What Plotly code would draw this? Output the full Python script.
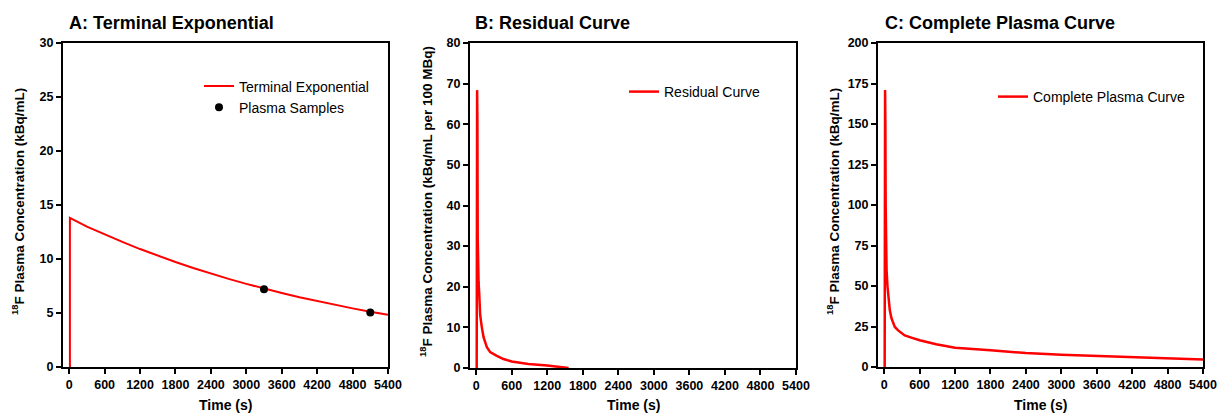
import plotly.graph_objects as go

W, H = 1227, 417

# ---------------- data ----------------
time_a = [12, 12, 300, 600, 900, 1200, 1500, 1800, 2100, 2400, 2700, 3000,
          3300, 3600, 3900, 4200, 4500, 4800, 5100, 5400]
terminal_a = [0, 13.8, 13.0, 12.27, 11.58, 10.92, 10.30, 9.72, 9.17, 8.65, 8.16,
              7.70, 7.26, 6.85, 6.46, 6.10, 5.75, 5.43, 5.12, 4.83]
sample_time = [3300, 5100]
sample_conc = [7.2, 5.05]

time_b = [8, 15, 20, 25, 30, 40, 50, 67, 95, 124, 180, 236, 348, 460, 600,
          880, 1200, 1470, 1560]
resid_b = [0, 68.4, 61, 32, 25, 21, 18.5, 13, 10, 7.6, 5.1, 3.9, 3.0, 2.2, 1.6,
           1.0, 0.6, 0.15, 0]

time_c = [8, 15, 20, 25, 30, 40, 55, 67, 95, 124, 180, 236, 348, 460, 600, 880,
          1200, 1800, 2100, 2400, 3000, 3600, 4200, 4800, 5400]
conc_c = [0, 171, 150, 100, 77, 60, 50, 45, 35, 30, 24.7, 22.6, 19.5, 18.1, 16.5,
          14.0, 11.9, 10.3, 9.3, 8.6, 7.6, 6.8, 6.0, 5.3, 4.6]

x_ticks = [0, 600, 1200, 1800, 2400, 3000, 3600, 4200, 4800, 5400]
y_ticks_a = [0, 5, 10, 15, 20, 25, 30]
y_ticks_b = [0, 10, 20, 30, 40, 50, 60, 70, 80]
y_ticks_c = [0, 25, 50, 75, 100, 125, 150, 175, 200]

panel_titles = ["A: Terminal Exponential", "B: Residual Curve", "C: Complete Plasma Curve"]
y_titles = ["<sup>18</sup>F Plasma Concentration (kBq/mL)",
            "<sup>18</sup>F Plasma Concentration (kBq/mL per 100 MBq)",
            "<sup>18</sup>F Plasma Concentration (kBq/mL)"]

# ---------------- layout geometry (pixels) ----------------
panels = [  # left, right, top, bottom
    (63, 388, 43, 367),
    (470, 796, 43, 368),
    (878, 1203, 43, 367),
]
FONT = "Arial, Liberation Sans, sans-serif"
RED = "#ff0000"

def px(x):
    return x / W

def py(y):
    return 1 - y / H

fig = go.Figure()

fig.add_trace(go.Scatter(x=time_a, y=terminal_a, mode="lines", name="Terminal Exponential",
                         line=dict(color=RED, width=2), xaxis="x", yaxis="y", legend="legend"))
fig.add_trace(go.Scatter(x=sample_time, y=sample_conc, mode="markers", name="Plasma Samples",
                         marker=dict(color="black", size=8), xaxis="x", yaxis="y", legend="legend"))
fig.add_trace(go.Scatter(x=time_b, y=resid_b, mode="lines", name="Residual Curve",
                         line=dict(color=RED, width=2.5), xaxis="x2", yaxis="y2", legend="legend2"))
fig.add_trace(go.Scatter(x=time_c, y=conc_c, mode="lines", name="Complete Plasma Curve",
                         line=dict(color=RED, width=2.5), xaxis="x3", yaxis="y3", legend="legend3"))

def axis_common():
    return dict(showline=True, linecolor="black", linewidth=2, mirror=True,
                ticks="outside", ticklen=5, tickwidth=1.5, tickcolor="black",
                showgrid=False, zeroline=False, automargin=False,
                tickfont=dict(family=FONT, size=12.5, color="black", weight="bold"))

yranges = [(0, 30, y_ticks_a), (0, 80, y_ticks_b), (0, 200, y_ticks_c)]
layout = dict(template="none", width=W, height=H, margin=dict(l=0, r=0, t=0, b=0, pad=0),
              paper_bgcolor="white", plot_bgcolor="white", showlegend=True,
              font=dict(family=FONT, color="black"))
for i, (l, r, t, b) in enumerate(panels):
    sfx = "" if i == 0 else str(i + 1)
    xa = axis_common()
    xa.update(domain=[px(l), px(r)], range=[-105, 5400], tickvals=x_ticks,
              anchor="y" + sfx)
    ya = axis_common()
    y0, y1, yt = yranges[i]
    ya.update(domain=[py(b), py(t)], range=[y0, y1], tickvals=yt, anchor="x" + sfx)
    layout["xaxis" + sfx] = xa
    layout["yaxis" + sfx] = ya

leg_font = dict(family=FONT, size=14, color="black")
layout["legend"] = dict(x=px(199), y=py(97), xanchor="left", yanchor="middle",
                        font=leg_font, bgcolor="rgba(0,0,0,0)", tracegroupgap=0)
layout["legend2"] = dict(x=px(624), y=py(92), xanchor="left", yanchor="middle",
                         font=leg_font, bgcolor="rgba(0,0,0,0)")
layout["legend3"] = dict(x=px(993), y=py(97), xanchor="left", yanchor="middle",
                         font=leg_font, bgcolor="rgba(0,0,0,0)")

fig.update_layout(**layout)

title_x = [67, 473, 883]
ytitle_x = [18, 426, 833]
for i, (l, r, t, b) in enumerate(panels):
    fig.add_annotation(text=panel_titles[i], x=px(title_x[i]), y=py(23), xref="paper", yref="paper",
                       xanchor="left", yanchor="middle", showarrow=False,
                       font=dict(family=FONT, size=18, color="black", weight="bold"))
    fig.add_annotation(text="Time (s)", x=px((l + r) / 2), y=py(405), xref="paper", yref="paper",
                       xanchor="center", yanchor="middle", showarrow=False,
                       font=dict(family=FONT, size=14, color="black", weight="bold"))
    fig.add_annotation(text=y_titles[i], x=px(ytitle_x[i]), y=py(202), xref="paper", yref="paper",
                       xanchor="center", yanchor="middle", showarrow=False, textangle=-90,
                       font=dict(family=FONT, size=13.5, color="black", weight="bold"))

fig.write_html("out.html", config={"displayModeBar": False},
               post_script="document.body.style.margin='0';document.body.style.padding='0';")
